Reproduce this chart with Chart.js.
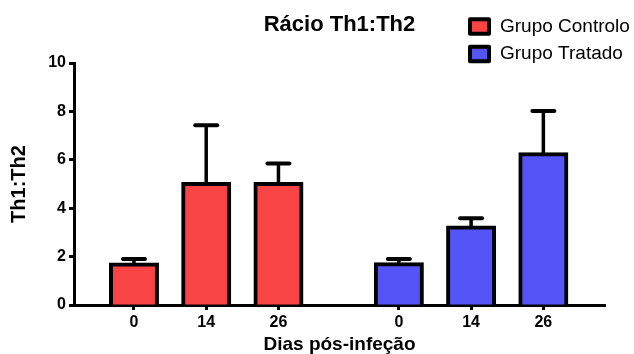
<!DOCTYPE html>
<html>
<head>
<meta charset="utf-8">
<script src="https://cdn.jsdelivr.net/npm/chart.js@4/dist/chart.umd.min.js"></script>
<style>
  html, body { margin: 0; padding: 0; background: #fff; }
  #wrap { width: 634px; height: 354px; }
</style>
</head>
<body>
<div id="wrap"><canvas id="chart" width="634" height="354"></canvas></div>
<script>
// Th1:Th2 ratio per day post-infection, mean and SEM for each group
const days = ['0', '14', '26'];
const groupNames = ['Grupo Controlo', 'Grupo Tratado'];
const controlMean = [1.67, 5.0, 5.0];
const controlSem = [0.23, 2.43, 0.85];
const treatedMean = [1.68, 3.2, 6.23];
const treatedSem = [0.22, 0.38, 1.79];

const FONT = "'Liberation Sans', Arial, Helvetica, sans-serif";
const groupColors = ['#F84444', '#5555F7'];
const groupGap = 2 / 3;   // extra spacing between the two groups, in bar slots

// bar slot on the x axis for group g, day i
function slotPos(g, i) { return 1 + g * (days.length + groupGap) + i; }
const slots = [];
groupNames.forEach((_, g) => days.forEach((_, i) => slots.push(slotPos(g, i))));

function series(g, means) {
  return means.map((m, i) => ({ x: slotPos(g, i), y: m }));
}

// upper SEM whiskers, drawn under the bars so the outline covers their foot
const errorBars = {
  id: 'errorBars',
  beforeDatasetsDraw(chart) {
    const { ctx, scales: { y } } = chart;
    chart.data.datasets.forEach((ds, di) => {
      const meta = chart.getDatasetMeta(di);
      meta.data.forEach((bar, i) => {
        const tip = y.getPixelForValue(ds.data[i].y + ds.errors[i]);
        ctx.save();
        ctx.strokeStyle = '#000';
        ctx.lineWidth = 3.5;
        ctx.beginPath();
        ctx.moveTo(bar.x, bar.y);
        ctx.lineTo(bar.x, tip);
        ctx.stroke();
        ctx.lineWidth = 4;
        ctx.lineCap = 'round';
        ctx.beginPath();
        ctx.moveTo(bar.x - 11, tip);
        ctx.lineTo(bar.x + 11, tip);
        ctx.stroke();
        ctx.restore();
      });
    });
  }
};

// stacked legend in the upper right corner
const boxLegend = {
  id: 'boxLegend',
  afterDraw(chart) {
    const ctx = chart.ctx;
    ctx.save();
    chart.data.datasets.forEach((ds, i) => {
      const cy = 26.5 + i * 27.5;
      ctx.fillStyle = ds.backgroundColor;
      ctx.strokeStyle = '#000';
      ctx.lineWidth = 4;
      ctx.lineJoin = 'round';
      ctx.beginPath();
      ctx.rect(470, cy - 7.3, 19, 14.6);
      ctx.fill();
      ctx.stroke();
      ctx.fillStyle = '#000';
      ctx.font = '19px ' + FONT;
      ctx.textAlign = 'left';
      ctx.textBaseline = 'middle';
      ctx.fillText(ds.label, 500, cy);
    });
    ctx.restore();
  }
};

Chart.defaults.font.family = FONT;
Chart.defaults.color = '#000';

new Chart(document.getElementById('chart'), {
  type: 'bar',
  data: {
    datasets: [
      {
        label: groupNames[0],
        data: series(0, controlMean),
        errors: controlSem,
        backgroundColor: groupColors[0]
      },
      {
        label: groupNames[1],
        data: series(1, treatedMean),
        errors: treatedSem,
        backgroundColor: groupColors[1]
      }
    ]
  },
  options: {
    responsive: false,
    animation: false,
    devicePixelRatio: 1,
    layout: { padding: { left: 0, right: 29, top: 0, bottom: 0 } },
    datasets: {
      bar: {
        grouped: false,
        barThickness: 46,
        borderColor: '#000',
        borderWidth: 4,
        inflateAmount: 2,
        borderSkipped: 'start'
      }
    },
    plugins: {
      legend: { display: false },
      tooltip: { enabled: false },
      title: {
        display: true,
        fullSize: false,
        text: 'Rácio Th1:Th2',
        font: { size: 22, weight: 'bold', family: FONT },
        color: '#000',
        padding: { top: 12, bottom: 24.6 }
      }
    },
    scales: {
      x: {
        type: 'linear',
        min: 0.17,
        max: 7.52,
        offset: false,
        bounds: 'data',
        z: 1,
        afterBuildTicks(scale) { scale.ticks = slots.map(v => ({ value: v })); },
        afterFit(scale) { scale.height = 49; },
        ticks: {
          autoSkip: false,
          maxRotation: 0,
          padding: 3,
          font: { size: 16, weight: 'bold' },
          callback: (value, index) => days[index % days.length]
        },
        grid: {
          offset: false,
          drawOnChartArea: false,
          drawTicks: true,
          tickLength: 5,
          tickWidth: 3,
          tickColor: '#000'
        },
        border: { display: true, color: '#000', width: 3 },
        title: {
          display: true,
          text: 'Dias pós-infeção',
          font: { size: 19, weight: 'bold' },
          padding: { top: 0, bottom: -2 }
        }
      },
      y: {
        min: 0,
        max: 10,
        z: 1,
        afterFit(scale) { scale.width = 74; },
        ticks: {
          stepSize: 2,
          padding: 3,
          font: { size: 16, weight: 'bold' }
        },
        grid: {
          drawOnChartArea: false,
          drawTicks: true,
          tickLength: 5,
          tickWidth: 3,
          tickColor: '#000'
        },
        border: { display: true, color: '#000', width: 3 },
        title: {
          display: true,
          text: 'Th1:Th2',
          font: { size: 20, weight: 'bold' },
          padding: { top: 7, bottom: 0 }
        }
      }
    }
  },
  plugins: [errorBars, boxLegend]
});
</script>
</body>
</html>
